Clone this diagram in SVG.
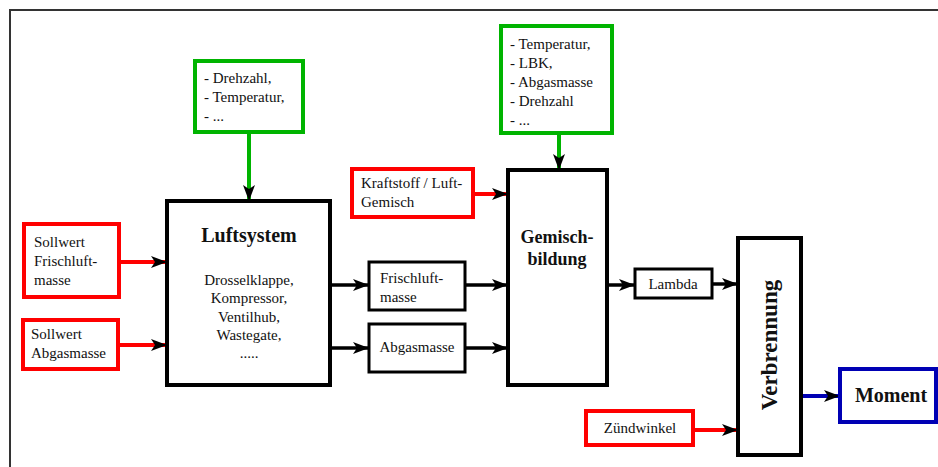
<svg xmlns="http://www.w3.org/2000/svg" width="938" height="467" viewBox="0 0 938 467">
  <defs>
    <marker id="head" markerUnits="userSpaceOnUse" markerWidth="16" markerHeight="12" viewBox="0 0 16 12" refX="15" refY="6" orient="auto">
      <path d="M0,0 L16,6 L0,12 L4,6 z" fill="#000"/>
    </marker>
  </defs>
  <style>
    .frame { fill: none; stroke: #333; stroke-width: 2; }
    .blk { fill: #fff; stroke: #000; stroke-width: 4; }
    .box { fill: #fff; stroke: #000; stroke-width: 3; }
    .red { fill: #fff; stroke: #ff0000; stroke-width: 4; }
    .grn { fill: #fff; stroke: #00b400; stroke-width: 4; }
    .blu { fill: #fff; stroke: #0000b4; stroke-width: 4; }
    .t { font-family: "Liberation Serif", "Times New Roman", serif; font-size: 15px; fill: #111; }
    .c { text-anchor: middle; }
    .b { font-weight: bold; }
    .wk { stroke: #000; stroke-width: 3.5; fill: none; marker-end: url(#head); }
    .wr { stroke: #ff0000; stroke-width: 4; fill: none; marker-end: url(#head); }
    .wg { stroke: #00b400; stroke-width: 4; fill: none; marker-end: url(#head); }
    .wb { stroke: #0000b4; stroke-width: 4; fill: none; marker-end: url(#head); }
  </style>
  <rect width="938" height="467" fill="#fff"/>
  <path class="frame" d="M10,467 L10,10 L938,10"/>

  <g id="connectors">
    <line class="wg" x1="249" y1="133" x2="249" y2="200"/>
    <line class="wg" x1="559" y1="134" x2="559" y2="169"/>
    <line class="wr" x1="119" y1="262" x2="166" y2="262"/>
    <line class="wr" x1="118" y1="345" x2="166" y2="345"/>
    <line class="wr" x1="473" y1="194" x2="507" y2="194"/>
    <line class="wr" x1="693" y1="430" x2="737" y2="430"/>
    <line class="wk" x1="330" y1="285" x2="368" y2="285"/>
    <line class="wk" x1="330" y1="348" x2="368" y2="348"/>
    <line class="wk" x1="465" y1="285" x2="507" y2="285"/>
    <line class="wk" x1="465" y1="348" x2="507" y2="348"/>
    <line class="wk" x1="607" y1="285" x2="634" y2="285"/>
    <line class="wk" x1="712" y1="284" x2="737" y2="284"/>
    <line class="wb" x1="801" y1="396" x2="839" y2="396"/>
  </g>

  <g id="params-luft">
    <rect class="grn" x="195" y="61" width="108" height="71"/>
    <text class="t" x="204" y="83">- Drehzahl,</text>
    <text class="t" x="204" y="102">- Temperatur,</text>
    <text class="t" x="204" y="121">- ...</text>
  </g>

  <g id="params-gemisch">
    <rect class="grn" x="501" y="26" width="111" height="107"/>
    <text class="t" x="510" y="49">- Temperatur,</text>
    <text class="t" x="510" y="68">- LBK,</text>
    <text class="t" x="510" y="87">- Abgasmasse</text>
    <text class="t" x="510" y="106">- Drehzahl</text>
    <text class="t" x="510" y="125">- ...</text>
  </g>

  <g id="sollwert-frischluft">
    <rect class="red" x="24" y="224" width="95" height="73"/>
    <text class="t" x="34" y="247">Sollwert</text>
    <text class="t" x="34" y="266">Frischluft-</text>
    <text class="t" x="34" y="285">masse</text>
  </g>

  <g id="sollwert-abgas">
    <rect class="red" x="23" y="320" width="95" height="49"/>
    <text class="t" x="31" y="339">Sollwert</text>
    <text class="t" x="31" y="358">Abgasmasse</text>
  </g>

  <g id="luftsystem">
    <rect class="blk" x="167" y="201" width="163" height="184"/>
    <text class="t c b" x="249" y="242" style="font-size:20px">Luftsystem</text>
    <text class="t c" x="249" y="285">Drosselklappe,</text>
    <text class="t c" x="249" y="303">Kompressor,</text>
    <text class="t c" x="249" y="322">Ventilhub,</text>
    <text class="t c" x="249" y="340">Wastegate,</text>
    <text class="t c" x="249" y="358">.....</text>
  </g>

  <g id="frischluftmasse">
    <rect class="box" x="369" y="262" width="96" height="48"/>
    <text class="t" x="380" y="283">Frischluft-</text>
    <text class="t" x="380" y="302">masse</text>
  </g>

  <g id="abgasmasse">
    <rect class="box" x="369" y="324" width="96" height="48"/>
    <text class="t c" x="417" y="352">Abgasmasse</text>
  </g>

  <g id="kraftstoff">
    <rect class="red" x="352" y="169" width="121" height="48"/>
    <text class="t" x="361" y="188">Kraftstoff / Luft-</text>
    <text class="t" x="361" y="207">Gemisch</text>
  </g>

  <g id="gemischbildung">
    <rect class="blk" x="508" y="170" width="99" height="215"/>
    <text class="t c b" x="557" y="243" style="font-size:18px">Gemisch-</text>
    <text class="t c b" x="557" y="265" style="font-size:18px">bildung</text>
  </g>

  <g id="lambda">
    <rect class="box" x="635" y="269" width="77" height="29"/>
    <text class="t c" x="673" y="289">Lambda</text>
  </g>

  <g id="zuendwinkel">
    <rect class="red" x="586" y="411" width="107" height="34"/>
    <text class="t c" x="640" y="433">Zündwinkel</text>
  </g>

  <g id="verbrennung">
    <rect class="blk" x="738" y="238" width="63" height="217"/>
    <text class="t c b" x="0" y="0" style="font-size:23px" transform="translate(777,345) rotate(-90)">Verbrennung</text>
  </g>

  <g id="moment">
    <rect class="blu" x="840" y="369" width="96" height="53"/>
    <text class="t c b" x="891" y="402" style="font-size:20px">Moment</text>
  </g>
</svg>
